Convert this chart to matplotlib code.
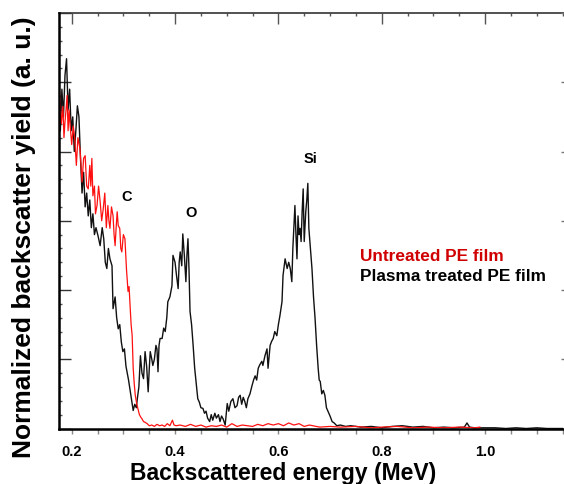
import matplotlib
matplotlib.use('Agg')
import matplotlib.pyplot as plt
from matplotlib.ticker import MultipleLocator

plt.rcParams['font.family'] = ['Liberation Sans', 'DejaVu Sans']

# Plasma treated PE film (black)
e_plasma = [0.175, 0.178, 0.181, 0.184, 0.187, 0.190, 0.193, 0.196, 0.199, 0.202,
            0.205, 0.208, 0.211, 0.214, 0.217, 0.220, 0.223, 0.226, 0.229, 0.232,
            0.235, 0.238, 0.241, 0.244, 0.247, 0.251, 0.255, 0.259, 0.262, 0.265,
            0.268, 0.271, 0.274, 0.278, 0.280, 0.284, 0.287, 0.290, 0.293, 0.296,
            0.299, 0.302, 0.305, 0.307, 0.310, 0.313, 0.316, 0.319, 0.322, 0.325,
            0.327, 0.330, 0.333, 0.336, 0.339, 0.342, 0.345, 0.348, 0.350, 0.352,
            0.355, 0.357, 0.360, 0.363, 0.365, 0.367, 0.369, 0.371, 0.375, 0.378,
            0.381, 0.384, 0.386, 0.390, 0.394, 0.396, 0.400, 0.403, 0.406, 0.408,
            0.410, 0.413, 0.415, 0.418, 0.421, 0.423, 0.425, 0.427, 0.429, 0.432,
            0.435, 0.438, 0.441, 0.444, 0.447, 0.450, 0.454, 0.457, 0.460, 0.463,
            0.467, 0.470, 0.473, 0.477, 0.480, 0.484, 0.487, 0.490, 0.493, 0.497,
            0.501, 0.504, 0.508, 0.512, 0.516, 0.520, 0.523, 0.526, 0.529, 0.532,
            0.535, 0.538, 0.541, 0.545, 0.549, 0.552, 0.555, 0.558, 0.561, 0.564,
            0.568, 0.570, 0.574, 0.578, 0.580, 0.584, 0.587, 0.590, 0.593, 0.597,
            0.600, 0.603, 0.607, 0.609, 0.613, 0.617, 0.620, 0.623, 0.626, 0.628,
            0.632, 0.634, 0.636, 0.638, 0.640, 0.642, 0.644, 0.646, 0.648, 0.650,
            0.652, 0.653, 0.655, 0.657, 0.659, 0.662, 0.665, 0.668, 0.671, 0.674,
            0.677, 0.679, 0.681, 0.684, 0.687, 0.690, 0.693, 0.696, 0.700, 0.704,
            0.708, 0.713, 0.720, 0.730, 0.740, 0.760, 0.780, 0.800, 0.820, 0.840,
            0.860, 0.880, 0.900, 0.920, 0.940, 0.960, 0.965, 0.970, 0.980, 1.000,
            1.020, 1.040, 1.060, 1.080, 1.100, 1.120, 1.140, 1.150]
y_plasma = [4.70, 4.30, 4.90, 4.50, 5.10, 5.34, 4.60, 4.90, 4.30, 4.50,
            4.00, 4.30, 4.66, 4.50, 3.90, 3.40, 3.70, 3.20, 3.40, 3.07,
            3.30, 2.90, 3.10, 2.80, 2.90, 2.78, 2.64, 2.90, 2.74, 2.40,
            2.31, 2.60, 2.45, 2.35, 1.73, 1.90, 1.60, 1.44, 1.50, 1.25,
            1.11, 1.15, 0.90, 0.82, 0.70, 0.55, 0.40, 0.26, 0.35, 0.30,
            0.43, 0.60, 1.05, 0.80, 0.72, 1.11, 0.90, 0.53, 0.85, 1.11,
            1.00, 0.91, 1.00, 1.20, 1.15, 0.82, 1.20, 1.30, 1.30, 1.45,
            1.40, 1.60, 1.83, 1.90, 2.06, 2.50, 2.40, 2.20, 2.02, 2.40,
            2.55, 2.35, 2.81, 2.50, 2.12, 2.50, 2.74, 2.30, 1.69, 1.50,
            1.20, 0.87, 0.65, 0.43, 0.38, 0.30, 0.29, 0.22, 0.25, 0.15,
            0.10, 0.20, 0.12, 0.22, 0.15, 0.20, 0.10, 0.18, 0.14, 0.05,
            0.36, 0.25, 0.39, 0.43, 0.30, 0.33, 0.45, 0.48, 0.35, 0.45,
            0.39, 0.30, 0.43, 0.50, 0.62, 0.70, 0.76, 0.70, 0.87, 0.92,
            0.97, 0.91, 1.05, 1.15, 0.87, 1.20, 1.26, 1.30, 1.40, 1.34,
            1.50, 1.63, 1.83, 2.21, 2.45, 2.31, 2.40, 2.31, 2.12, 2.60,
            3.22, 2.80, 2.45, 3.07, 2.80, 2.89, 2.70, 3.13, 3.46, 2.70,
            3.00, 3.13, 3.30, 3.54, 2.89, 2.60, 2.31, 1.90, 1.59, 1.20,
            0.87, 0.70, 0.68, 0.50, 0.55, 0.48, 0.30, 0.25, 0.18, 0.10,
            0.08, 0.04, 0.05, 0.03, 0.04, 0.02, 0.03, 0.01, 0.03, 0.04,
            0.02, 0.03, 0.01, 0.02, 0.01, 0.02, 0.08, 0.02, 0.01, 0.01,
            0.01, 0.00, 0.01, 0.00, 0.01, 0.00, 0.00, 0.00]

# Untreated PE film (red)
e_untreated = [0.175, 0.177, 0.180, 0.183, 0.185, 0.187, 0.189, 0.191, 0.193, 0.195,
               0.197, 0.200, 0.203, 0.206, 0.209, 0.212, 0.216, 0.220, 0.223, 0.226,
               0.229, 0.232, 0.235, 0.237, 0.239, 0.241, 0.244, 0.246, 0.249, 0.252,
               0.255, 0.258, 0.261, 0.264, 0.267, 0.270, 0.272, 0.274, 0.277, 0.280,
               0.282, 0.284, 0.286, 0.288, 0.290, 0.293, 0.295, 0.297, 0.300, 0.303,
               0.306, 0.309, 0.311, 0.313, 0.315, 0.317, 0.319, 0.321, 0.323, 0.326,
               0.328, 0.331, 0.334, 0.336, 0.339, 0.342, 0.346, 0.350, 0.355, 0.360,
               0.365, 0.370, 0.375, 0.380, 0.385, 0.390, 0.395, 0.398, 0.402, 0.410,
               0.420, 0.430, 0.440, 0.450, 0.460, 0.470, 0.480, 0.490, 0.500, 0.510,
               0.520, 0.530, 0.540, 0.550, 0.560, 0.570, 0.580, 0.590, 0.600, 0.610,
               0.620, 0.630, 0.640, 0.650, 0.660, 0.680, 0.700, 0.720, 0.750, 0.780,
               0.800, 0.830, 0.860, 0.890, 0.920, 0.950, 0.980, 0.990]
y_untreated = [5.00, 4.81, 4.40, 4.65, 4.20, 4.43, 4.60, 4.81, 4.30, 4.60,
               4.37, 4.10, 4.37, 4.18, 3.80, 4.20, 4.04, 3.56, 3.90, 3.94,
               3.50, 3.46, 3.80, 3.50, 3.90, 3.36, 3.50, 3.10, 3.22, 3.50,
               3.28, 3.00, 3.17, 3.40, 2.90, 3.22, 3.00, 2.89, 3.20, 3.07,
               2.80, 2.64, 2.90, 3.13, 2.93, 2.89, 2.60, 2.55, 2.80, 2.74,
               2.30, 1.98, 2.05, 1.77, 1.50, 1.34, 0.87, 0.65, 0.48, 0.35,
               0.29, 0.20, 0.16, 0.14, 0.10, 0.09, 0.07, 0.04, 0.05, 0.03,
               0.06, 0.04, 0.05, 0.03, 0.07, 0.04, 0.12, 0.05, 0.04, 0.05,
               0.03, 0.06, 0.03, 0.05, 0.02, 0.04, 0.03, 0.05, 0.02, 0.07,
               0.03, 0.05, 0.04, 0.03, 0.06, 0.04, 0.07, 0.05, 0.07, 0.04,
               0.08, 0.05, 0.07, 0.03, 0.05, 0.02, 0.03, 0.02, 0.03, 0.01,
               0.02, 0.03, 0.01, 0.02, 0.01, 0.02, 0.01, 0.02]

# element labels
elements = ['C', 'O', 'Si']
element_e = [0.307, 0.431, 0.663]
element_y = [3.36, 3.13, 3.90]

fig = plt.figure(figsize=(5.64, 4.85), dpi=100)
ax = fig.add_axes([59 / 564, 1 - 429.5 / 485, 1 - 59 / 564, 415.5 / 485])

ax.plot(e_plasma, y_plasma, color='#111111', lw=1.0)
ax.plot(e_untreated, y_untreated, color='#ff1010', lw=0.9)

for lab, xe, ye in zip(elements, element_e, element_y):
    ax.text(xe, ye, lab, fontsize=10.5, fontweight='bold', ha='center', va='center')

# legend as plain coloured text
ax.text(0.758, 2.50, 'Untreated PE film', color='#d00000', fontsize=12.4,
        fontweight='bold', va='center')
ax.text(0.758, 2.21, 'Plasma treated PE film', color='black', fontsize=12.4,
        fontweight='bold', va='center')

ax.set_xlim(0.1754, 1.1528)
ax.set_ylim(0, 6.0)

ax.xaxis.set_major_locator(MultipleLocator(0.2))
ax.xaxis.set_minor_locator(MultipleLocator(0.05))
ax.yaxis.set_major_locator(MultipleLocator(1))
ax.yaxis.set_minor_locator(MultipleLocator(0.2))
ax.tick_params(axis='x', which='both', direction='out', length=3.6, width=1,
               color='#888888', pad=7.5, labelsize=10.5)
ax.tick_params(axis='y', which='major', direction='in', length=8.6, width=1,
               color='#333333', labelleft=False)
ax.tick_params(axis='y', which='minor', direction='in', length=2.5, width=1,
               color='#555555')
for t in ax.get_xticklabels():
    t.set_fontweight('bold')

top = ax.secondary_xaxis('top')
top.xaxis.set_major_locator(MultipleLocator(0.2))
top.xaxis.set_minor_locator(MultipleLocator(0.05))
top.tick_params(which='major', direction='in', length=8, width=1, color='#555555',
                labeltop=False)
top.tick_params(which='minor', direction='in', length=2.2, width=1, color='#555555')
top.spines['top'].set_color('#333333')
top.spines['top'].set_linewidth(1.2)

right = ax.secondary_yaxis('right')
right.yaxis.set_major_locator(MultipleLocator(1))
right.tick_params(which='major', direction='in', length=2, width=1, color='#777777',
                  labelright=False)
right.yaxis.set_minor_locator(MultipleLocator(10))
right.spines['right'].set_visible(False)

ax.spines['top'].set_visible(False)
ax.spines['right'].set_visible(False)
ax.spines['left'].set_linewidth(1.8)
ax.spines['bottom'].set_linewidth(1.8)

fig.text(283.5 / 564, 1 - 480 / 485, 'Backscattered energy (MeV)', fontsize=16.5,
         fontweight='bold', ha='center', va='baseline')
fig.text(24 / 564, 1 - 237.5 / 485, 'Normalized backscatter yield (a. u.)',
         fontsize=19, fontweight='bold', rotation=90, ha='center', va='center')

fig.savefig('out.png', dpi=100)
